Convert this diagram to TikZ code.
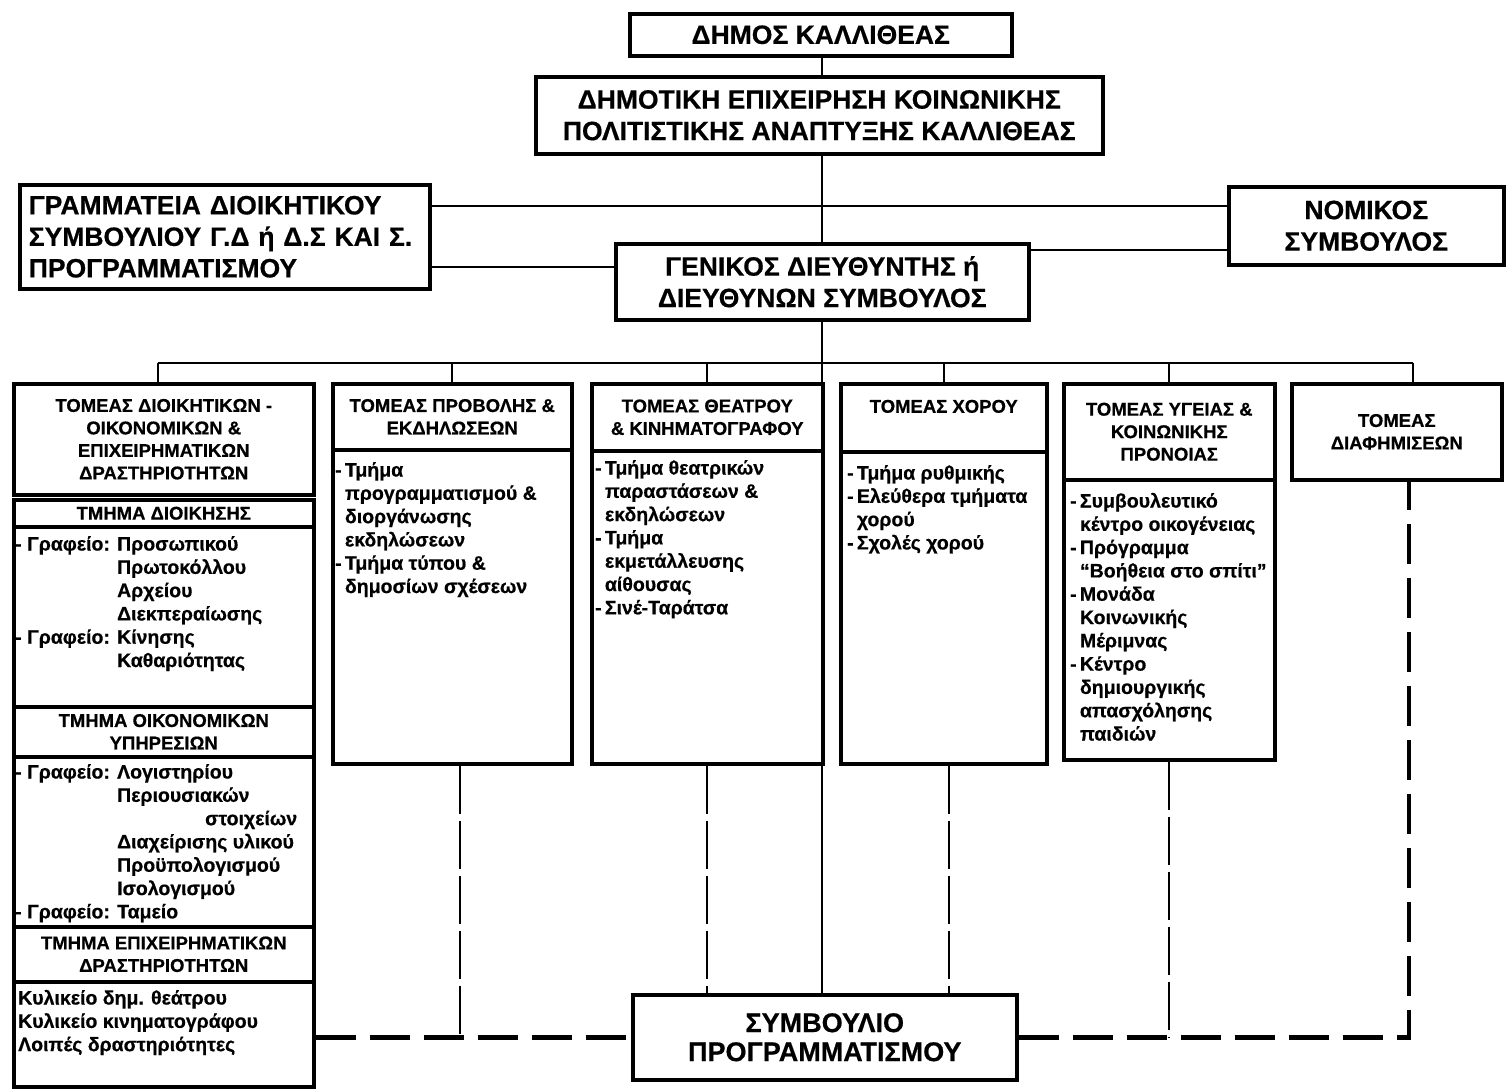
\documentclass[tikz,border=0pt]{standalone}
\usepackage{fontspec}
\setmainfont[BoldFeatures={FakeBold=0.6}]{Liberation Sans}

\tikzset{
  box/.style={draw, line width=3.5pt, inner sep=0pt, anchor=north west, align=center},
  titlefont/.style={font=\bfseries\fontsize{26.5}{31.5}\selectfont},
  headfont/.style={font=\bfseries\fontsize{18.5}{22.5}\selectfont},
  listtext/.style={anchor=north west, inner sep=0pt, font=\bfseries\fontsize{19.5}{23.3}\selectfont},
  link/.style={line width=2.2pt},
  thindash/.style={line width=2.2pt, dash pattern=on 48pt off 7pt},
  thickdash/.style={line width=4.5pt, dash pattern=on 40pt off 14pt},
}

\begin{document}
\begin{tikzpicture}[x=1pt,y=-1pt]
\useasboundingbox (0,0) rectangle (1506,1088);

\node[box, titlefont, minimum width=382pt, minimum height=42pt] (dhmos) at (628,12) {ΔΗΜΟΣ ΚΑΛΛΙΘΕΑΣ};
\node[box, titlefont, minimum width=567pt, minimum height=77pt] (dekpa) at (534,75)
  {ΔΗΜΟΤΙΚΗ ΕΠΙΧΕΙΡΗΣΗ ΚΟΙΝΩΝΙΚΗΣ\\ΠΟΛΙΤΙΣΤΙΚΗΣ ΑΝΑΠΤΥΞΗΣ ΚΑΛΛΙΘΕΑΣ};
\node[box, titlefont, align=left, text width=392pt, inner xsep=9pt, minimum height=104pt] (gram) at (18,183)
  {ΓΡΑΜΜΑΤΕΙΑ ΔΙΟΙΚΗΤΙΚΟΥ\\ΣΥΜΒΟΥΛΙΟΥ Γ.Δ ή Δ.Σ ΚΑΙ Σ.\\ΠΡΟΓΡΑΜΜΑΤΙΣΜΟΥ};
\node[box, titlefont, minimum width=413pt, minimum height=76pt] (gd) at (614,242)
  {ΓΕΝΙΚΟΣ ΔΙΕΥΘΥΝΤΗΣ ή\\ΔΙΕΥΘΥΝΩΝ ΣΥΜΒΟΥΛΟΣ};
\node[box, titlefont, minimum width=275pt, minimum height=78pt] (nomikos) at (1227,185)
  {ΝΟΜΙΚΟΣ\\ΣΥΜΒΟΥΛΟΣ};

\coordinate (top) at (820,206);
\coordinate (bus) at (820,363);
\draw[link] (gd.north |- dhmos.south) -- (gd.north |- dekpa.north);
\draw[link] (gd.north |- dekpa.south) -- (gd.north);
\draw[link] (gram.east |- top) -- (nomikos.west |- top);
\draw[link] (gram.east |- 0,267) -- (gd.west |- 0,267);
\draw[link] (gd.east |- 0,250) -- (nomikos.west |- 0,250);

% column 1
\node[box, headfont, minimum width=300pt, minimum height=111pt] (h1) at (12,382)
  {ΤΟΜΕΑΣ ΔΙΟΙΚΗΤΙΚΩΝ -\\ΟΙΚΟΝΟΜΙΚΩΝ \&\\ΕΠΙΧΕΙΡΗΜΑΤΙΚΩΝ\\ΔΡΑΣΤΗΡΙΟΤΗΤΩΝ};
\node[box, headfont, minimum width=300pt, minimum height=27pt] (s1a) at (12,498) {ΤΜΗΜΑ ΔΙΟΙΚΗΣΗΣ};
\node[box, minimum width=300pt, minimum height=180pt] (b1a) at (12,525) {};
\node[listtext] (t1a) at ([shift={(3pt,-9pt)}]b1a.north west)
  {\begin{tabular}{@{}l@{ }l@{}}- Γραφείο: & Προσωπικού\\ & Πρωτοκόλλου\\ & Αρχείου\\ & Διεκπεραίωσης\\
   - Γραφείο: & Κίνησης\\ & Καθαριότητας\end{tabular}};
\node[box, headfont, minimum width=300pt, minimum height=50pt] (s1b) at (12,705) {ΤΜΗΜΑ ΟΙΚΟΝΟΜΙΚΩΝ\\ΥΠΗΡΕΣΙΩΝ};
\node[box, minimum width=300pt, minimum height=170pt] (b1b) at (12,755) {};
\node[listtext] (t1b) at ([shift={(3pt,-7pt)}]b1b.north west)
  {\begin{tabular}{@{}l@{ }l@{}}- Γραφείο: & Λογιστηρίου\\ & Περιουσιακών\\ & \hspace{88pt}στοιχείων\\ & Διαχείρισης υλικού\\
   & Προϋπολογισμού\\ & Ισολογισμού\\ - Γραφείο: & Ταμείο\end{tabular}};
\node[box, headfont, minimum width=300pt, minimum height=55pt] (s1c) at (12,925) {ΤΜΗΜΑ ΕΠΙΧΕΙΡΗΜΑΤΙΚΩΝ\\ΔΡΑΣΤΗΡΙΟΤΗΤΩΝ};
\node[box, minimum width=300pt, minimum height=105pt] (b1c) at (12,980) {};
\node[listtext] (t1c) at ([shift={(6pt,-8pt)}]b1c.north west)
  {\begin{tabular}{@{}l@{}}Κυλικείο δημ. θεάτρου\\ Κυλικείο κινηματογράφου\\ Λοιπές δραστηριότητες\end{tabular}};

% column 2
\node[box, headfont, minimum width=239pt, minimum height=66pt] (h2) at (331,382) {ΤΟΜΕΑΣ ΠΡΟΒΟΛΗΣ \&\\ΕΚΔΗΛΩΣΕΩΝ};
\node[box, minimum width=239pt, minimum height=314pt] (b2) at (331,448) {};
\node[listtext] (t2) at ([shift={(4pt,-12pt)}]b2.north west)
  {\begin{tabular}{@{}l@{\,}l@{}}- & Τμήμα\\ & προγραμματισμού \&\\ & διοργάνωσης\\ & εκδηλώσεων\\
   - & Τμήμα τύπου \&\\ & δημοσίων σχέσεων\end{tabular}};

% column 3
\node[box, headfont, minimum width=231pt, minimum height=67pt] (h3) at (590,382) {ΤΟΜΕΑΣ ΘΕΑΤΡΟΥ\\\& ΚΙΝΗΜΑΤΟΓΡΑΦΟΥ};
\node[box, minimum width=231pt, minimum height=313pt] (b3) at (590,449) {};
\node[listtext] (t3) at ([shift={(5pt,-9pt)}]b3.north west)
  {\begin{tabular}{@{}l@{\,}l@{}}- & Τμήμα θεατρικών\\ & παραστάσεων \&\\ & εκδηλώσεων\\ - & Τμήμα\\
   & εκμετάλλευσης\\ & αίθουσας\\ - & Σινέ-Ταράτσα\end{tabular}};

% column 4
\node[box, headfont, minimum width=206pt, text height=29pt, text depth=39pt] (h4) at (839,382) {ΤΟΜΕΑΣ ΧΟΡΟΥ};
\node[box, minimum width=206pt, minimum height=312pt] (b4) at (839,450) {};
\node[listtext] (t4) at ([shift={(8pt,-13pt)}]b4.north west)
  {\begin{tabular}{@{}l@{\,}l@{}}- & Τμήμα ρυθμικής\\ - & Ελεύθερα τμήματα\\ & χορού\\ - & Σχολές χορού\end{tabular}};

% column 5
\node[box, headfont, minimum width=211pt, minimum height=96pt] (h5) at (1062,382) {ΤΟΜΕΑΣ ΥΓΕΙΑΣ \&\\ΚΟΙΝΩΝΙΚΗΣ\\ΠΡΟΝΟΙΑΣ};
\node[box, minimum width=211pt, minimum height=280pt] (b5) at (1062,478) {};
\node[listtext] (t5) at ([shift={(8pt,-13pt)}]b5.north west)
  {\begin{tabular}{@{}l@{\,}l@{}}- & Συμβουλευτικό\\ & κέντρο οικογένειας\\ - & Πρόγραμμα\\ & “Βοήθεια στο σπίτι”\\
   - & Μονάδα\\ & Κοινωνικής\\ & Μέριμνας\\ - & Κέντρο\\ & δημιουργικής\\ & απασχόλησης\\ & παιδιών\end{tabular}};

% column 6
\node[box, headfont, minimum width=210pt, minimum height=96pt] (h6) at (1290,382) {ΤΟΜΕΑΣ\\ΔΙΑΦΗΜΙΣΕΩΝ};

\node[box, font=\bfseries\fontsize{27}{29}\selectfont, minimum width=384pt, minimum height=85pt] (symv) at (631,993)
  {ΣΥΜΒΟΥΛΙΟ\\ΠΡΟΓΡΑΜΜΑΤΙΣΜΟΥ};

\draw[link] (gd.south) -- (gd.south |- symv.north);
\draw[link] ([xshift=-6pt]h1.north |- bus) -- ([xshift=16pt]h6.north |- bus);
\draw[link] ([xshift=-6pt]h1.north |- bus) -- ([xshift=-6pt]h1.north);
\foreach \n in {h2,h3,h4,h5}
  \draw[link] (\n.north |- bus) -- (\n.north);
\draw[link] ([xshift=16pt]h6.north |- bus) -- ([xshift=16pt]h6.north);

\draw[thindash] ([xshift=8pt]b2.south) -- ([xshift=8pt]b2.south |- symv.west);
\draw[thindash] (b3.south) -- (b3.south |- symv.north);
\draw[thindash] ([xshift=5pt]b4.south) -- ([xshift=5pt]b4.south |- symv.north);
\draw[thindash] (b5.south) -- (b5.south |- symv.east);
\draw[thickdash] (b1c.east |- symv.west) -- (symv.west);
\draw[thickdash] (symv.east) -| ([xshift=12pt]h6.south);
\end{tikzpicture}
\end{document}
